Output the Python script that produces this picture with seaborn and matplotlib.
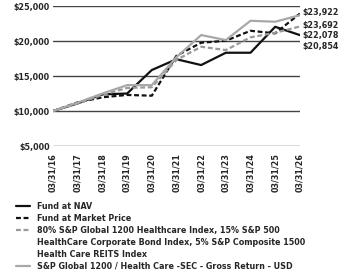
import pandas as pd
import matplotlib.pyplot as plt
import seaborn as sns
from matplotlib import font_manager
from matplotlib.lines import Line2D

dates = ["03/31/16", "03/31/17", "03/31/18", "03/31/19", "03/31/20", "03/31/21",
         "03/31/22", "03/31/23", "03/31/24", "03/31/25", "03/31/26"]
nav = [10000, 11100, 12380, 12500, 15860, 17400, 16570, 18330, 18330, 22040, 20854]
market = [10000, 11240, 11960, 12300, 12190, 17900, 19760, 20040, 21470, 21100, 23922]
blend = [10000, 11100, 12300, 13300, 13400, 17300, 19190, 18710, 20530, 21190, 22078]
sp_gross = [10000, 11200, 12500, 13700, 13700, 17700, 20860, 20140, 22900, 22760, 23692]
end_labels = ["$23,922", "$23,692", "$22,078", "$20,854"]
yticks = [5000, 10000, 15000, 20000, 25000]

series_names = [
    "Fund at NAV",
    "Fund at Market Price",
    "80% S&P Global 1200 Healthcare Index, 15% S&P 500\nHealthCare Corporate Bond Index, 5% S&P Composite 1500\nHealth Care REITS Index",
    "S&P Global 1200 / Health Care -SEC - Gross Return - USD",
]
series_values = [nav, market, blend, sp_gross]
colors = ["#111111", "#111111", "#9a9a9a", "#a8a8a8"]
styles = ["-", (0, (2.2, 1.2)), (0, (2.2, 1.2)), "-"]

sns.set_style("white")

# use a narrow face if one is installed, else condensed DejaVu
names = {f.name for f in font_manager.fontManager.ttflist}
if "Liberation Sans Narrow" in names:
    plt.rcParams["font.family"] = ["Liberation Sans Narrow", "DejaVu Sans"]
else:
    plt.rcParams["font.family"] = ["DejaVu Sans"]
    plt.rcParams["font.stretch"] = "condensed"
plt.rcParams["font.weight"] = "bold"

fig = plt.figure(figsize=(3.54, 2.76), dpi=100)
ax = fig.add_axes([0.15, 0.471, 0.697, 0.507])

# Grid lines drawn first so data sit on top
for v in yticks:
    ax.axhline(v, color="#444444", linewidth=1.0, zorder=1)

handles = []
for name, vals, c, ls in zip(series_names, series_values, colors, styles):
    df = pd.DataFrame({"x": range(len(dates)), "y": vals})
    sns.lineplot(data=df, x="x", y="y", ax=ax, color=c, linewidth=1.6,
                 linestyle=ls, zorder=3)
    handles.append(ax.lines[-1])

ax.set_ylim(5000, 25000)
ax.set_xlim(0, len(dates) - 1)
ax.set_yticks(yticks)
ax.set_yticklabels([f"${v:,.0f}" for v in yticks], fontsize=6.4, fontweight="bold")
ax.set_xticks(range(len(dates)))
ax.set_xticklabels(dates, rotation=90, fontsize=6.4, fontweight="bold")
ax.tick_params(axis="y", length=0, pad=2.5)
ax.tick_params(axis="x", length=0, pad=5)
ax.set_xlabel("")
ax.set_ylabel("")
for s in ax.spines.values():
    s.set_visible(False)

# End value labels stacked at right
label_y = [24040, 22290, 20860, 19190]
for txt, yv in zip(end_labels, label_y):
    ax.text(len(dates) - 1 + 0.12, yv, txt, fontsize=6.4, fontweight="bold",
            va="center", ha="left", clip_on=False)

# legend: wrapped label lines get blank handles so the line sits by the first row
leg_handles, leg_labels = [], []
for h, name in zip(handles, series_names):
    parts = name.split("\n")
    leg_handles.append(h)
    leg_labels.append(parts[0])
    for p in parts[1:]:
        leg_handles.append(Line2D([], [], linestyle="none"))
        leg_labels.append(p)

leg = fig.legend(leg_handles, leg_labels, loc="upper left",
                 bbox_to_anchor=(0.045, 0.268), frameon=False, fontsize=6.4,
                 handlelength=1.6, handletextpad=0.8, labelspacing=0.33,
                 borderaxespad=0, borderpad=0)
for t in leg.get_texts():
    t.set_fontweight("bold")

fig.savefig("out.png", dpi=100)
